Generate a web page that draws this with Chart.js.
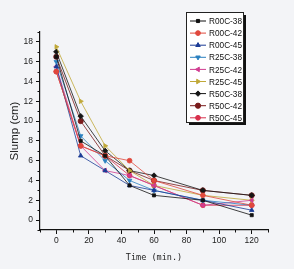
<!DOCTYPE html>
<html>
<head>
<meta charset="utf-8">
<script src="https://cdn.jsdelivr.net/npm/chart.js@4/dist/chart.umd.min.js"></script>
<style>
  html, body { margin: 0; padding: 0; background: #f3f4f7; }
  #wrap { width: 294px; height: 269px; }
</style>
</head>
<body>
<div id="wrap"><canvas id="slump-chart"></canvas></div>
<script>
  // data
  const times = [0, 15, 30, 45, 60, 90, 120];
  const seriesNames = ["R00C-38", "R00C-42", "R00C-45", "R25C-38", "R25C-42", "R25C-45", "R50C-38", "R50C-42", "R50C-45"];
  const r00c38 = [16.5, 8, 6.5, 3.5, 2.5, 2, 0.5];
  const r00c42 = [15, 7.5, 6.5, 6, 4, 2.5, 1.5];
  const r00c45 = [15.5, 6.5, 5, 3.5, 3, 2, 1];
  const r25c38 = [16, 8.5, 6, 4, 3, 2, 1.5];
  const r25c42 = [15.5, 7.5, 5, 4.5, 3.5, 1.5, 2];
  const r25c45 = [17.5, 12, 7.5, 5, 3.5, 2.5, 2];
  const r50c38 = [17, 10.5, 7, 5, 4.5, 3, 2.5];
  const r50c42 = [16.5, 10, 6.5, 5, 4, 3, 2.5];
  const r50c45 = [15, 7.5, 6.5, 4.5, 3.5, 1.5, 1.5];
  const xTicks = [0, 20, 40, 60, 80, 100, 120];
  const yTicks = [0, 2, 4, 6, 8, 10, 12, 14, 16, 18];

  const seriesValues = [r00c38, r00c42, r00c45, r25c38, r25c42, r25c45, r50c38, r50c42, r50c45];
  const colors = ["#111111", "#e0483c", "#1c3c96", "#2a80c0", "#d03c90", "#c0a838", "#151515", "#7a1c1c", "#d8304c"];
  const styles = ["rect", "circle", "triangle", "triangle", "triangle", "triangle", "rectRot", "circle", "circle"];
  const rotations = [0, 0, 0, 180, -90, 90, 0, 0, 0];
  const radii = [2.2, 2.4, 2.6, 2.6, 2.6, 2.6, 2.7, 2.6, 2.4];

  const bgPlugin = {
    id: "bg",
    beforeDraw(chart) {
      const c = chart.ctx;
      c.save();
      c.fillStyle = "#f3f4f7";
      c.fillRect(0, 0, chart.width, chart.height);
      c.restore();
    }
  };

  // small ticks between the labelled ones
  const minorTicks = {
    id: "minorTicks",
    afterDraw(chart) {
      const c = chart.ctx;
      const x = chart.scales.x, y = chart.scales.y;
      c.save();
      c.strokeStyle = "#111";
      c.lineWidth = 1;
      c.beginPath();
      for (let v = -10; v <= 130; v += 20) {
        const px = Math.round(x.getPixelForValue(v)) + 0.5;
        c.moveTo(px, y.bottom);
        c.lineTo(px, y.bottom + 2.5);
      }
      for (let v = -1; v <= 19; v += 2) {
        const py = Math.round(y.getPixelForValue(v)) + 0.5;
        c.moveTo(x.left - 2.5, py);
        c.lineTo(x.left, py);
      }
      c.stroke();
      c.restore();
    }
  };

  const boxLegend = {
    id: "boxLegend",
    afterDraw(chart) {
      const c = chart.ctx;
      const left = 186, top = 12, w = 57, h = 110;
      c.save();
      c.fillStyle = "#111";
      c.fillRect(left + 3, top + 3, w, h);
      c.fillStyle = "#ffffff";
      c.fillRect(left, top, w, h);
      c.strokeStyle = "#222";
      c.lineWidth = 1;
      c.strokeRect(left + 0.5, top + 0.5, w, h);
      c.font = "9.5px Arial, 'Liberation Sans', sans-serif";
      c.textBaseline = "middle";
      chart.data.datasets.forEach((ds, i) => {
        const yy = top + 9 + i * 12.1;
        c.strokeStyle = ds.borderColor;
        c.lineWidth = 1;
        c.beginPath();
        c.moveTo(left + 4, yy);
        c.lineTo(left + 20, yy);
        c.stroke();
        c.fillStyle = ds.pointBackgroundColor;
        c.strokeStyle = ds.pointBorderColor;
        if (Chart.helpers && Chart.helpers.drawPoint) {
          Chart.helpers.drawPoint(c, {pointStyle: ds.pointStyle, radius: ds.pointRadius, rotation: ds.pointRotation, borderWidth: 1}, left + 12, yy);
        }
        c.fillStyle = "#111";
        c.fillText(ds.label, left + 23, yy + 0.5, 33);
      });
      c.restore();
    }
  };

  const ctx = document.getElementById("slump-chart").getContext("2d");
  const slumpChart = new Chart(ctx, {
    type: "line",
    data: {
      datasets: seriesNames.map((name, i) => ({
        label: name,
        data: times.map((t, j) => ({x: t, y: seriesValues[i][j]})),
        borderColor: colors[i],
        backgroundColor: colors[i],
        pointBackgroundColor: colors[i],
        pointBorderColor: colors[i],
        pointStyle: styles[i],
        pointRotation: rotations[i],
        pointRadius: radii[i],
        borderWidth: 0.8,
        tension: 0
      }))
    },
    options: {
      responsive: true,
      maintainAspectRatio: false,
      animation: false,
      layout: { padding: { left: 8, right: 26, top: 32, bottom: 4 } },
      plugins: {
        legend: { display: false },
        tooltip: { enabled: false }
      },
      scales: {
        x: {
          type: "linear",
          min: -10,
          max: 130,
          afterBuildTicks: (scale) => { scale.ticks = xTicks.map(v => ({value: v})); },
          afterFit: (scale) => { scale.height = 35; },
          grid: { drawOnChartArea: false, drawTicks: true, tickLength: 4, tickColor: "#111", tickWidth: 1 },
          border: { display: true, color: "#111", width: 1.2 },
          ticks: { color: "#222", padding: 2, maxRotation: 0, font: { size: 8.5, family: "Arial, 'Liberation Sans', sans-serif" } },
          title: { display: true, text: "Time (min.)", color: "#222", padding: { top: 0, bottom: 2 }, font: { size: 8.5, family: "'DejaVu Sans Mono', monospace" } }
        },
        y: {
          type: "linear",
          min: -1,
          max: 19,
          afterBuildTicks: (scale) => { scale.ticks = yTicks.map(v => ({value: v})); },
          afterFit: (scale) => { scale.width = 32; },
          grid: { drawOnChartArea: false, drawTicks: true, tickLength: 4, tickColor: "#111", tickWidth: 1 },
          border: { display: true, color: "#111", width: 1.2 },
          ticks: { color: "#222", padding: 3, font: { size: 8.5, family: "Arial, 'Liberation Sans', sans-serif" } },
          title: { display: true, text: "Slump (cm)", color: "#222", padding: 0, font: { size: 11.5, family: "Arial, 'Liberation Sans', sans-serif" } }
        }
      }
    },
    plugins: [bgPlugin, minorTicks, boxLegend]
  });
</script>
</body>
</html>
